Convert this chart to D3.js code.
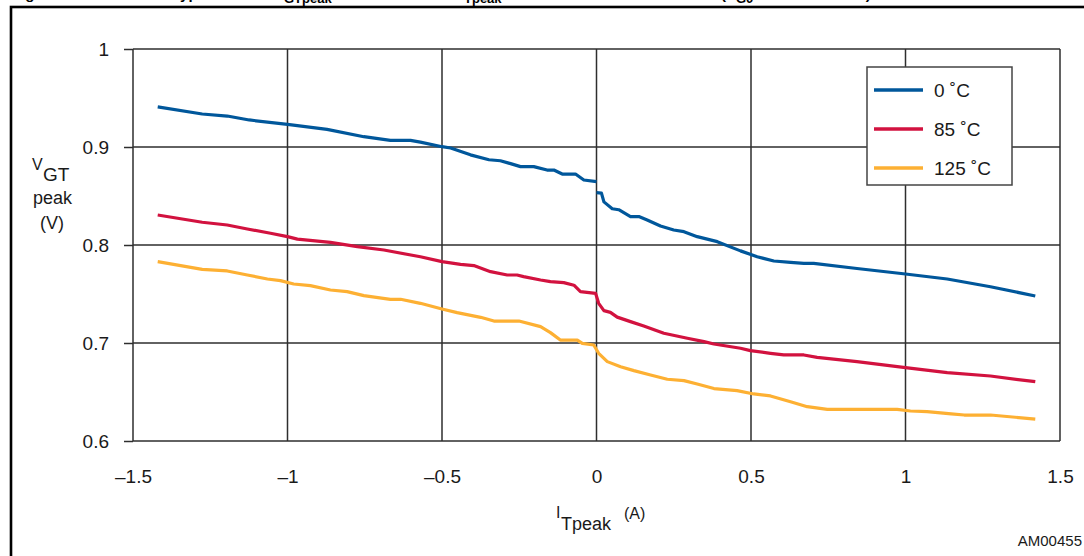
<!DOCTYPE html>
<html><head><meta charset="utf-8">
<script src="https://cdn.jsdelivr.net/npm/d3@7"></script>
<style>
html,body{margin:0;padding:0;background:#fff;}
svg{display:block;font-family:"Liberation Sans",Arial,sans-serif;}
</style></head>
<body>
<svg id="chart" width="1084" height="556"></svg>
<script>
// ---- data ----
const xTicks = [-1.5, -1, -0.5, 0, 0.5, 1, 1.5];
const xTickLabels = ["–1.5", "–1", "–0.5", "0", "0.5", "1", "1.5"];
const yTicks = [0.6, 0.7, 0.8, 0.9, 1];
const yTickLabels = ["0.6", "0.7", "0.8", "0.9", "1"];
const seriesNames = ["0 ˚C", "85 ˚C", "125 ˚C"];
const seriesColors = ["#00579b", "#d2123f", "#fdb033"];
// null marks a break in the trace
const curve0C = [[-1.42,0.941],[-1.276,0.9337],[-1.195,0.9316],[-1.124,0.9276],[-1.0,0.923],[-0.872,0.918],[-0.753,0.9105],[-0.667,0.9068],[-0.602,0.9068],[-0.57,0.905],[-0.5,0.9003],[-0.472,0.899],[-0.408,0.892],[-0.348,0.887],[-0.311,0.886],[-0.278,0.883],[-0.246,0.880],[-0.203,0.880],[-0.16,0.8765],[-0.138,0.8765],[-0.111,0.8724],[-0.068,0.8724],[-0.041,0.8663],[0,0.8646],null,[0,0.8534],[0.016,0.853],[0.024,0.844],[0.051,0.837],[0.072,0.836],[0.11,0.829],[0.137,0.829],[0.164,0.8255],[0.207,0.8194],[0.25,0.8153],[0.283,0.8136],[0.326,0.8085],[0.391,0.8034],[0.466,0.794],[0.52,0.788],[0.574,0.7837],[0.628,0.7823],[0.671,0.7813],[0.703,0.7813],[0.843,0.776],[1.0,0.7704],[1.135,0.7653],[1.275,0.7574],[1.42,0.748]];
const curve85C = [[-1.42,0.8306],[-1.276,0.8232],[-1.195,0.8204],[-1.13,0.8163],[-1.055,0.812],[-1.0,0.8085],[-0.968,0.806],[-0.861,0.8027],[-0.774,0.7983],[-0.688,0.7949],[-0.57,0.788],[-0.5,0.783],[-0.44,0.7803],[-0.397,0.779],[-0.343,0.7728],[-0.289,0.7694],[-0.257,0.7694],[-0.236,0.7677],[-0.181,0.7643],[-0.149,0.7626],[-0.106,0.7616],[-0.073,0.759],[-0.052,0.7524],[-0.003,0.7507],[0.007,0.7405],[0.024,0.733],[0.045,0.7313],[0.067,0.7264],[0.11,0.7218],[0.153,0.7174],[0.218,0.71],[0.294,0.7048],[0.348,0.7014],[0.38,0.699],[0.466,0.6946],[0.498,0.6922],[0.563,0.6895],[0.606,0.6878],[0.671,0.6878],[0.714,0.6854],[0.843,0.681],[1.0,0.6748],[1.135,0.6697],[1.275,0.6663],[1.42,0.6605]];
const curve125C = [[-1.42,0.783],[-1.276,0.7752],[-1.195,0.7735],[-1.13,0.7694],[-1.065,0.7653],[-1.023,0.7636],[-0.98,0.7602],[-0.926,0.7585],[-0.861,0.7541],[-0.807,0.7524],[-0.753,0.7483],[-0.667,0.7446],[-0.634,0.7446],[-0.57,0.7405],[-0.5,0.7347],[-0.451,0.731],[-0.375,0.7262],[-0.332,0.7224],[-0.251,0.7224],[-0.181,0.7167],[-0.149,0.7106],[-0.117,0.703],[-0.062,0.703],[-0.046,0.6997],[-0.009,0.698],[0.007,0.6895],[0.035,0.681],[0.078,0.6758],[0.121,0.6718],[0.175,0.6673],[0.229,0.663],[0.283,0.6616],[0.326,0.6582],[0.38,0.6535],[0.455,0.6514],[0.509,0.648],[0.563,0.646],[0.628,0.6401],[0.682,0.635],[0.747,0.6323],[0.973,0.6323],[1.016,0.6306],[1.07,0.6299],[1.148,0.6276],[1.19,0.6265],[1.275,0.6265],[1.42,0.6224]];
const allCurves = [curve0C, curve85C, curve125C];

// ---- layout ----
const svg = d3.select("#chart");
const W = 1084, H = 556;
const plot = {left: 133, right: 1060, top: 49, bottom: 441};
const x = d3.scaleLinear().domain([-1.5, 1.5]).range([plot.left, plot.right]);
const y = d3.scaleLinear().domain([0.6, 1]).range([plot.bottom, plot.top]);
const gridColor = "#2e2e2e";

// outer frame
svg.append("rect").attr("x", 11).attr("y", 7).attr("width", 1200).attr("height", 700)
  .attr("fill", "none").attr("stroke", "#000").attr("stroke-width", 2.6);

// clipped title above frame
const title = svg.append("g").attr("font-weight", "bold").attr("font-size", 15).attr("fill", "#000");
const titleParts = [
  {t: "Figure 6.", x: 12, sub: false},
  {t: "Typical", x: 172, sub: false},
  {t: "V", x: 272, sub: false},
  {t: "GTpeak", x: 284, sub: true},
  {t: "versus", x: 362, sub: false},
  {t: "I", x: 458, sub: false},
  {t: "Tpeak", x: 464, sub: true},
  {t: "and", x: 532, sub: false},
  {t: "(R", x: 721, sub: false},
  {t: "G0", x: 736, sub: true},
  {t: "= 1 kΩ)", x: 820, sub: false}
];
titleParts.forEach(p => {
  title.append("text").attr("x", p.x).attr("y", p.sub ? 3 : -1)
    .attr("font-size", p.sub ? 13 : 15).text(p.t);
});

// grid
const g = svg.append("g");
g.selectAll("line.vg").data(xTicks).enter().append("line")
  .attr("x1", d => x(d)).attr("x2", d => x(d)).attr("y1", plot.top).attr("y2", plot.bottom)
  .attr("stroke", gridColor).attr("stroke-width", 1.5);
g.selectAll("line.hg").data(yTicks).enter().append("line")
  .attr("x1", plot.left).attr("x2", plot.right).attr("y1", d => y(d)).attr("y2", d => y(d))
  .attr("stroke", gridColor).attr("stroke-width", 1.5);

// y axis ticks + labels
const yAxis = d3.axisLeft(y).tickValues(yTicks).tickFormat((d, i) => yTickLabels[i]).tickSize(9).tickPadding(15);
const ya = svg.append("g").attr("transform", `translate(${plot.left},0)`).call(yAxis);
ya.select(".domain").remove();
ya.selectAll("line").attr("stroke", gridColor).attr("stroke-width", 1.5);
ya.selectAll("text").attr("font-size", 19).attr("fill", "#1a1a1a").attr("font-family", "Liberation Sans, Arial, sans-serif");

// x axis labels
const xAxis = d3.axisBottom(x).tickValues(xTicks).tickFormat((d, i) => xTickLabels[i]).tickSize(0).tickPadding(29);
const xa = svg.append("g").attr("transform", `translate(0,${plot.bottom})`).call(xAxis);
xa.select(".domain").remove();
xa.selectAll("text").attr("font-size", 19).attr("fill", "#1a1a1a").attr("font-family", "Liberation Sans, Arial, sans-serif");

// curves
const line = d3.line().defined(d => d !== null).x(d => x(d[0])).y(d => y(d[1]));
allCurves.forEach((c, i) => {
  svg.append("path").datum(c).attr("d", line).attr("fill", "none")
    .attr("stroke", seriesColors[i]).attr("stroke-width", 3.2)
    .attr("stroke-linejoin", "round").attr("stroke-linecap", "butt");
});

// legend
const leg = svg.append("g");
leg.append("rect").attr("x", 867).attr("y", 67).attr("width", 145).attr("height", 118)
  .attr("fill", "#fff").attr("stroke", "#444").attr("stroke-width", 1.5);
seriesNames.forEach((n, i) => {
  const ly = 90 + i * 39;
  leg.append("line").attr("x1", 874).attr("x2", 923).attr("y1", ly).attr("y2", ly)
    .attr("stroke", seriesColors[i]).attr("stroke-width", 3.6);
  leg.append("text").attr("x", 934).attr("y", ly + 7).attr("font-size", 19).attr("fill", "#1a1a1a").text(n);
});

// y axis title
const yt = svg.append("g").attr("fill", "#1a1a1a");
yt.append("text").attr("x", 32).attr("y", 170).attr("font-size", 16).text("V");
yt.append("text").attr("x", 43).attr("y", 181).attr("font-size", 19).text("GT");
yt.append("text").attr("x", 33).attr("y", 204).attr("font-size", 18).text("peak");
yt.append("text").attr("x", 40).attr("y", 229).attr("font-size", 18).text("(V)");

// x axis title
const xt = svg.append("g").attr("fill", "#1a1a1a");
xt.append("text").attr("x", 556).attr("y", 518).attr("font-size", 16).text("I");
xt.append("text").attr("x", 561).attr("y", 530).attr("font-size", 18).text("Tpeak");
xt.append("text").attr("x", 624).attr("y", 519).attr("font-size", 16).text("(A)");

// figure code
svg.append("text").attr("x", 1082).attr("y", 546).attr("text-anchor", "end")
  .attr("font-size", 15).attr("fill", "#1a1a1a").text("AM00455");
</script>
</body></html>
